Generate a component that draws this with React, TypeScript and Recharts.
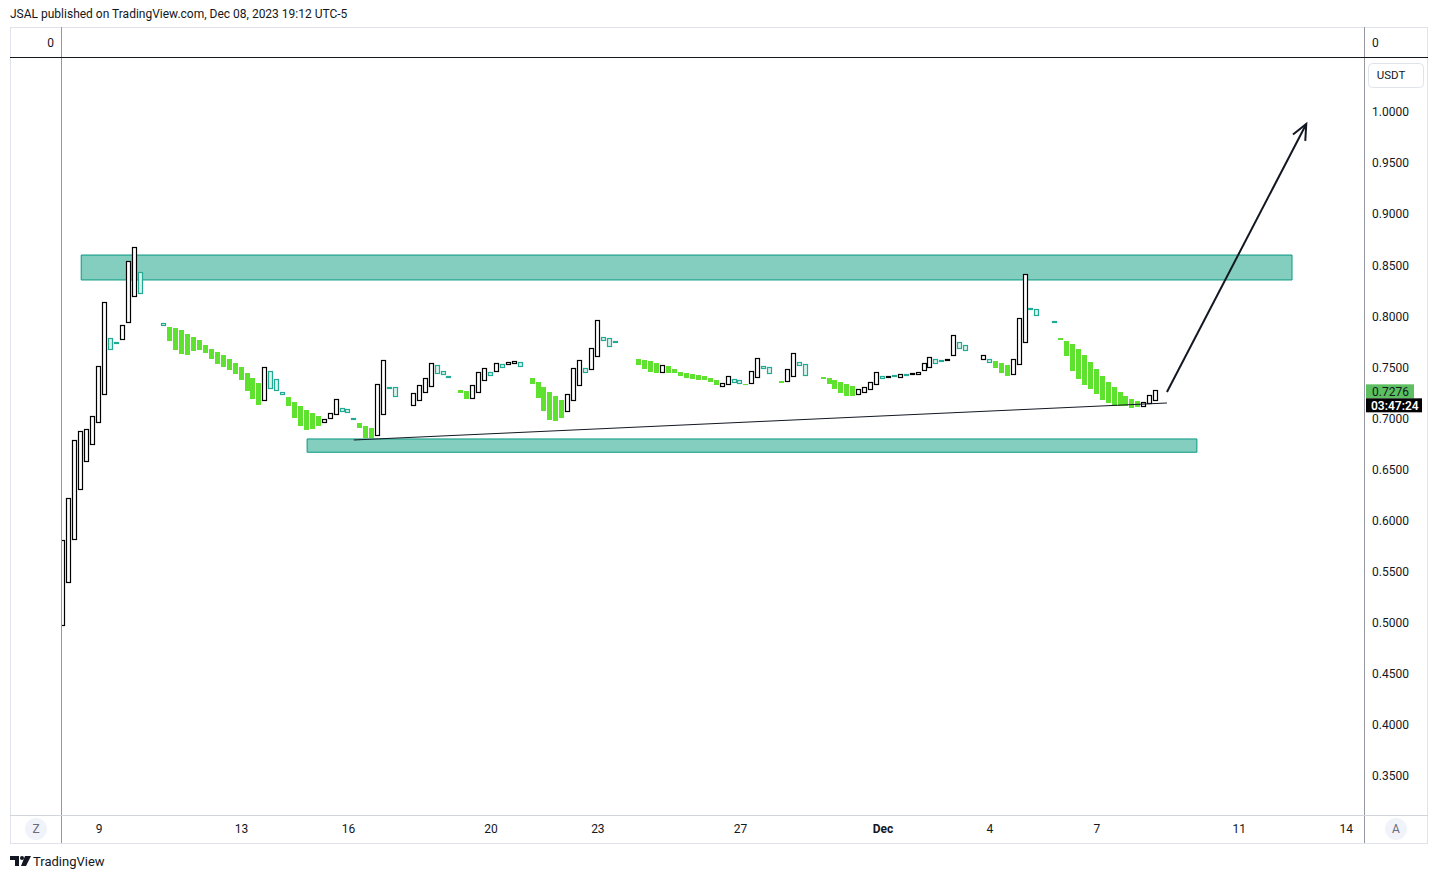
import React from 'react';
import { ComposedChart, Bar, XAxis, YAxis, ReferenceArea, ReferenceLine } from 'recharts';

// 4h candles starting Nov 8 00:00, one entry per candle (null = nothing drawn)
const bodyHigh = [
  0.581, 0.622, 0.679, 0.688, 0.690, 0.702, 0.751, 0.814, 0.779, 0.775,
  0.792, 0.854, 0.868, 0.843, null, null, null, 0.793, 0.790, 0.789,
  0.787, 0.783, 0.780, 0.777, 0.772, 0.768, 0.765, 0.762, 0.758, 0.754,
  0.750, 0.745, 0.740, 0.735, 0.750, 0.747, 0.739, 0.726, 0.721, 0.716,
  0.712, 0.708, 0.705, 0.702, 0.700, 0.705, 0.719, 0.710, 0.709, 0.701,
  0.696, 0.693, 0.691, 0.734, 0.757, 0.731, 0.731, null, null, 0.725,
  0.733, 0.740, 0.754, 0.752, 0.747, 0.742, null, 0.728, 0.727, 0.733,
  0.746, 0.749, 0.746, 0.754, 0.753, 0.755, 0.756, 0.755, null, 0.740,
  0.736, 0.731, 0.726, 0.722, 0.718, 0.724, 0.749, 0.757, 0.749, 0.769,
  0.796, 0.780, 0.779, 0.776, null, null, null, 0.758, 0.757, 0.756,
  0.754, 0.752, 0.751, 0.748, 0.746, 0.745, 0.744, 0.743, 0.742, 0.740,
  0.738, 0.735, 0.742, 0.739, 0.738, 0.734, 0.747, 0.759, 0.751, 0.750,
  null, 0.737, 0.748, 0.764, 0.755, 0.753, null, null, 0.741, 0.740,
  0.738, 0.736, 0.734, 0.732, 0.729, 0.731, 0.736, 0.746, 0.742, 0.742,
  0.743, 0.744, 0.744, 0.745, 0.746, 0.754, 0.760, 0.758, 0.757, 0.758,
  0.782, 0.775, 0.772, null, null, 0.762, 0.758, 0.756, 0.754, 0.752,
  0.758, 0.798, 0.841, 0.808, 0.807, null, null, 0.795, 0.779, 0.776,
  0.773, 0.768, 0.762, 0.755, 0.748, 0.742, 0.736, 0.731, 0.726, 0.722,
  0.719, 0.717, 0.716, 0.723, 0.7276,
];

const bodyLow = [
  0.497, 0.539, 0.581, 0.630, 0.658, 0.674, 0.695, 0.723, 0.767, 0.773,
  0.777, 0.793, 0.819, 0.821, null, null, null, 0.790, 0.776, 0.767,
  0.764, 0.762, 0.766, 0.767, 0.764, 0.758, 0.753, 0.750, 0.747, 0.743,
  0.737, 0.727, 0.719, 0.713, 0.717, 0.729, 0.727, 0.723, 0.712, 0.700,
  0.692, 0.688, 0.689, 0.692, 0.696, 0.699, 0.703, 0.706, 0.705, 0.699,
  0.691, 0.681, 0.681, 0.683, 0.703, 0.729, 0.721, null, null, 0.712,
  0.717, 0.725, 0.731, 0.743, 0.743, 0.740, null, 0.725, 0.719, 0.719,
  0.725, 0.736, 0.742, 0.745, 0.749, 0.752, 0.753, 0.750, null, 0.734,
  0.720, 0.708, 0.699, 0.698, 0.700, 0.706, 0.717, 0.732, 0.744, 0.747,
  0.760, 0.776, 0.770, 0.774, null, null, null, 0.752, 0.748, 0.745,
  0.744, 0.744, 0.744, 0.744, 0.742, 0.740, 0.739, 0.738, 0.738, 0.736,
  0.733, 0.731, 0.733, 0.735, 0.734, 0.733, 0.734, 0.739, 0.748, 0.743,
  null, 0.735, 0.735, 0.741, 0.751, 0.741, null, null, 0.739, 0.734,
  0.729, 0.725, 0.722, 0.722, 0.723, 0.725, 0.728, 0.733, 0.739, 0.740,
  0.741, 0.740, 0.742, 0.743, 0.743, 0.746, 0.749, 0.753, 0.755, 0.756,
  0.761, 0.768, 0.766, null, null, 0.757, 0.754, 0.749, 0.744, 0.741,
  0.742, 0.752, 0.773, 0.806, 0.800, null, null, 0.793, 0.777, 0.761,
  0.747, 0.739, 0.733, 0.729, 0.724, 0.719, 0.715, 0.712, 0.712, 0.712,
  0.710, 0.711, 0.711, 0.714, 0.717,
];

// U = hollow black, D = filled green, T = hollow teal, - = none
const bodyKind = [
  'UUUUUUUUTT', 'UUUT---TDD', 'DDDDDDDDDD', 'DDDDUTTTDD', 'DDDDUUUTTT',
  'DDDUUTT--U', 'UUUTTT-DDU', 'UUTUTUUT-D', 'DDDDDUUUTU', 'UTTT---DDD',
  'DUDDDDDDDD', 'DUUTTDUUTT', '-DUUTT--DD', 'DDDDUUUUTU', 'TUTUUUUTTU',
  'UTT--UTDDD', 'UUUTT--TDD', 'DDDDDDDDDD', 'DDUUU',
].join('');

const candlesPerDay = 6;

const priceTicks = [0.35, 0.4, 0.45, 0.5, 0.55, 0.6, 0.65, 0.7, 0.75, 0.8, 0.85, 0.9, 0.95, 1.0];
const dateTicks = [1, 5, 8, 12, 15, 19, 23, 26, 29, 33, 36];
const dateLabels = ['9', '13', '16', '20', '23', '27', 'Dec', '4', '7', '11', '14'];

// zones: [dayStart, dayEnd, priceLow, priceHigh]
const resistanceZone = [0.5, 34.48, 0.8356, 0.86];
const supportZone = [6.84, 31.81, 0.667, 0.68];
// lines: [day, price] pairs
const trendLine = [[8.15, 0.679], [30.97, 0.7152]];
const targetArrow = [[30.97, 0.7259], [34.88, 0.9883]];

const lastPrice = 0.7276;
const countdown = '03:47:24';

const GREEN = '#5ee12f';
const TEAL = '#22ab94';
const FONT = 'Roboto, "Noto Sans", sans-serif';

const candles = bodyHigh.map((h, i) => ({
  day: i / candlesPerDay,
  range: h == null || bodyLow[i] == null ? null : [bodyLow[i], h],
  kind: bodyKind[i],
}));

const CandleBody = (props: any) => {
  const { x, y, width, height, payload } = props;
  if (!payload || payload.range == null) return null;
  const top = Math.round(height < 0 ? y + height : y);
  const h = Math.max(Math.round(Math.abs(height)), 1);
  const left = Math.round(x);
  if (payload.kind === 'D') {
    return <rect x={left} y={top} width={width} height={h} fill={GREEN} />;
  }
  const stroke = payload.kind === 'T' ? TEAL : '#000000';
  const fill = payload.kind === 'T' ? '#dcf2eb' : '#ffffff';
  return (
    <rect x={left + 0.5} y={top + 0.5} width={width - 1} height={Math.max(h - 1, 1)}
      fill={fill} stroke={stroke} strokeWidth={1.2} />
  );
};

const ArrowShape = (p: any) => {
  const { x1, y1, x2, y2 } = p;
  if (x1 == null) return null;
  const ang = Math.atan2(y2 - y1, x2 - x1) + Math.PI;
  const len = 17;
  const ax = x2 + len * Math.cos(ang - 0.42);
  const ay = y2 + len * Math.sin(ang - 0.42);
  const bx = x2 + len * Math.cos(ang + 0.42);
  const by = y2 + len * Math.sin(ang + 0.42);
  return (
    <g>
      <line x1={x1} y1={y1} x2={x2} y2={y2} stroke="#131722" strokeWidth={2} />
      <polyline points={`${ax},${ay} ${x2},${y2} ${bx},${by}`} fill="none" stroke="#131722" strokeWidth={2} />
    </g>
  );
};

const PriceLabel = (p: any) => {
  const vb = p.viewBox || {};
  const x = (vb.x ?? 0) + (vb.width ?? 0) + 2;
  const y = (vb.y ?? 0) + 1;
  return (
    <g fontFamily={FONT} fontSize={12}>
      <rect x={x} y={y - 7} width={48} height={14} fill="#5cbf60" />
      <text x={x + 6} y={y + 4.5} fill="#131722">{lastPrice.toFixed(4)}</text>
      <rect x={x} y={y + 7} width={56} height={14} fill="#000000" />
      <text x={x + 5} y={y + 18.5} fill="#ffffff" fontWeight={600}>{countdown}</text>
    </g>
  );
};

const DateTick = (p: any) => {
  const { x, y, payload } = p;
  const i = dateTicks.indexOf(payload.value);
  const label = i >= 0 ? dateLabels[i] : '';
  return (
    <text x={x} y={y} dy={4} textAnchor="middle" fontFamily={FONT} fontSize={12}
      fill="#131722" fontWeight={label === 'Dec' ? 700 : 400}>{label}</text>
  );
};

const Overlay = () => (
  <svg width={1438} height={879} style={{ position: 'absolute', left: 0, top: 0, pointerEvents: 'none' }}
    fontFamily={FONT}>
    <text x={10} y={18} fontSize={12} fill="#131722">JSAL published on TradingView.com, Dec 08, 2023 19:12 UTC-5</text>
    <rect x={10.5} y={27.5} width={1417} height={816} fill="none" stroke="#e0e3eb" />
    <line x1={61.5} y1={27} x2={61.5} y2={843} stroke="#9598a1" />
    <line x1={1364.5} y1={27} x2={1364.5} y2={843} stroke="#9598a1" />
    <line x1={10} y1={57.5} x2={1428} y2={57.5} stroke="#131722" />
    <line x1={10} y1={815.5} x2={1428} y2={815.5} stroke="#d1d4dc" />
    <text x={54} y={47} fontSize={12} textAnchor="end" fill="#131722">0</text>
    <text x={1372} y={47} fontSize={12} fill="#131722">0</text>
    <rect x={1368.5} y={63.5} width={55} height={24} rx={4} fill="#fff" stroke="#e0e3eb" />
    <text x={1391} y={79} fontSize={11.5} textAnchor="middle" fill="#131722">USDT</text>
    <circle cx={36} cy={829} r={11} fill="#f0f3fa" />
    <text x={36} y={833} fontSize={12} textAnchor="middle" fill="#6a6d78">Z</text>
    <circle cx={1396} cy={829} r={11} fill="#f0f3fa" />
    <text x={1396} y={833} fontSize={12} textAnchor="middle" fill="#6a6d78">A</text>
    <path d="M10 856 h9 v10 h-4 v-6 h-5 z" fill="#131722" />
    <circle cx={22} cy={858} r={2} fill="#131722" />
    <path d="M25 856 h6 l-5 10 h-5 z" fill="#131722" />
    <text x={33} y={866} fontSize={13} fill="#131722">TradingView</text>
  </svg>
);

export default function App() {
  return (
    <div style={{ position: 'absolute', left: 0, top: 0, width: 1438, height: 879, background: '#fff' }}>
      <ComposedChart width={1438} height={879} data={candles}
        margin={{ top: 57, left: 61, right: 10, bottom: 36 }}>
        <XAxis dataKey="day" type="number" domain={[-0.067, 36.5]} allowDataOverflow
          ticks={dateTicks} tick={<DateTick />} tickLine={false} axisLine={false}
          tickSize={0} tickMargin={14} height={28} interval={0} />
        <YAxis orientation="right" type="number" domain={[0.312, 1.0538]} allowDataOverflow
          ticks={priceTicks} tickFormatter={(v: number) => v.toFixed(4)} width={64}
          tickLine={false} axisLine={false} tickSize={0} tickMargin={8}
          tick={{ fontSize: 12, fill: '#131722', fontFamily: FONT, textAnchor: 'start' }} />
        <ReferenceArea x1={resistanceZone[0]} x2={resistanceZone[1]} y1={resistanceZone[2]} y2={resistanceZone[3]}
          fill="#84cec0" fillOpacity={1} stroke="#089981" strokeWidth={1} />
        <ReferenceArea x1={supportZone[0]} x2={supportZone[1]} y1={supportZone[2]} y2={supportZone[3]}
          fill="#84cec0" fillOpacity={1} stroke="#089981" strokeWidth={1} />
        <Bar dataKey="range" barSize={5} shape={<CandleBody />} isAnimationActive={false} />
        <ReferenceLine segment={[{ x: trendLine[0][0], y: trendLine[0][1] }, { x: trendLine[1][0], y: trendLine[1][1] }]}
          stroke="#131722" strokeWidth={1} />
        <ReferenceLine segment={[{ x: targetArrow[0][0], y: targetArrow[0][1] }, { x: targetArrow[1][0], y: targetArrow[1][1] }]}
          shape={ArrowShape} />
        <ReferenceLine y={lastPrice} stroke="none" label={<PriceLabel />} />
      </ComposedChart>
      <Overlay />
    </div>
  );
}
